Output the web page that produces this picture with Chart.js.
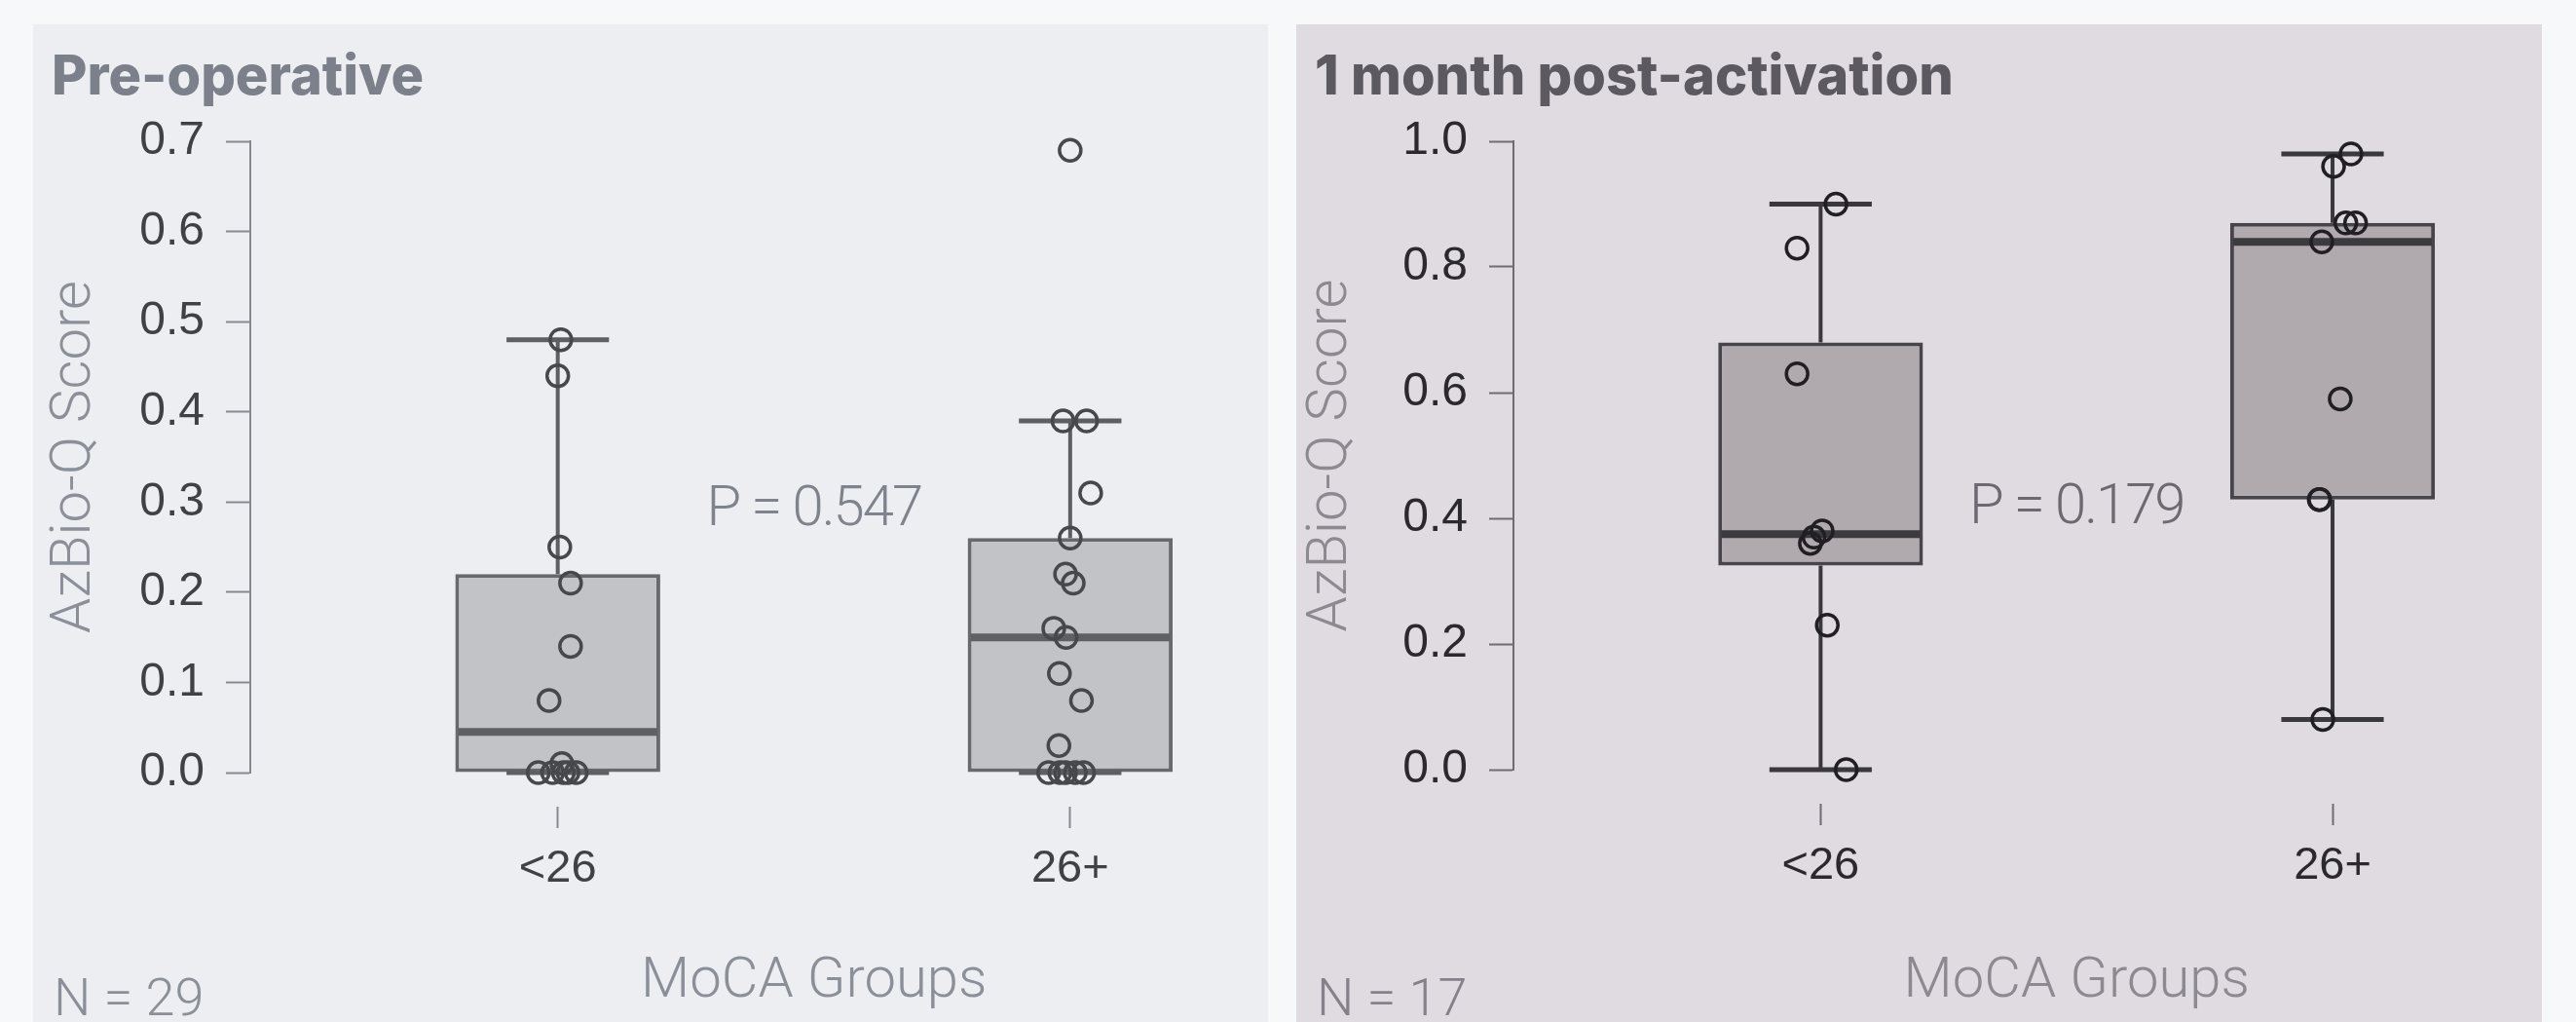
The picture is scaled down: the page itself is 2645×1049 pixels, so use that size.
<!DOCTYPE html>
<html lang="en">
  <head>
    <meta charset="UTF-8" />
    <title>AzBio-Q by MoCA group</title>
    <style>
      body {
        margin: 0;
        width: 2645px;
        height: 1049px;
        background-color: #f6f8fa;
        position: relative;
        overflow: hidden;
        font-family: Roboto, "Liberation Sans", sans-serif;
      }
      .panel {
        position: absolute;
        top: 25px;
        height: 1024px;
      }
      #panelPre {
        left: 34px;
        width: 1268px;
        background-color: #eceef2;
      }
      #panelPost {
        left: 1331px;
        width: 1279px;
        background-color: #dfdbe0;
      }
      .panel canvas {
        position: absolute;
        left: 0;
        top: 0;
      }
      .panel-title {
        position: absolute;
        left: 19px;
        top: 24px;
        font-family: Inter, "Noto Sans", sans-serif;
        font-weight: 800;
        font-size: 56px;
        line-height: 1;
        letter-spacing: 0;
        white-space: nowrap;
      }
      .n-label {
        position: absolute;
        left: 21px;
        top: 972px;
        font-size: 54px;
        font-weight: 300;
        line-height: 1;
        white-space: nowrap;
      }
    </style>
  </head>
  <body>
    <div class="panel" id="panelPre">
      <canvas id="chartPre" width="1268" height="1024"></canvas>
      <div class="panel-title" style="color: #7b808a">Pre-operative</div>
      <div class="n-label" style="color: #8b9098">N = 29</div>
    </div>
    <div class="panel" id="panelPost">
      <canvas id="chartPost" width="1279" height="1024"></canvas>
      <div class="panel-title" style="color: #5d5961">1 month post-activation</div>
      <div class="n-label" style="color: #85818a">N = 17</div>
    </div>

    <script src="https://cdn.jsdelivr.net/npm/chart.js"></script>
    <script>
      // groups on the x axis
      const groups = ["<26", "26+"];

      // pre-operative scores, one array per group
      const preLow = [0.48, 0.44, 0.25, 0.21, 0.14, 0.08, 0.01, 0, 0, 0, 0, 0];
      const preLowJitter = [0.006, 0, 0.004, 0.025, 0.025, -0.017, 0.008, -0.038, -0.01, 0.011, 0.036, 0.02];
      const preHigh = [0.69, 0.39, 0.39, 0.31, 0.26, 0.22, 0.21, 0.16, 0.15, 0.11, 0.08, 0.03, 0, 0, 0, 0, 0];
      const preHighJitter = [0, -0.014, 0.032, 0.04, 0, -0.009, 0.006, -0.032, -0.008, -0.021, 0.022, -0.022, -0.042, -0.009, 0.026, -0.02, 0.01];

      // pre-operative box summaries: [<26, 26+]
      const preQ1 = [0, 0];
      const preMedian = [0.045, 0.15];
      const preQ3 = [0.22, 0.26];
      const preWhiskerLow = [0, 0];
      const preWhiskerHigh = [0.48, 0.39];
      const preTicks = [0, 0.1, 0.2, 0.3, 0.4, 0.5, 0.6, 0.7];

      // 1 month post-activation
      const postLow = [0.9, 0.83, 0.63, 0.38, 0.37, 0.36, 0.23, 0];
      const postLowJitter = [0.03, -0.046, -0.046, 0.003, -0.013, -0.02, 0.013, 0.05];
      const postHigh = [0.98, 0.96, 0.87, 0.87, 0.84, 0.59, 0.43, 0.43, 0.08];
      const postHighJitter = [0.036, 0.002, 0.026, 0.045, -0.021, 0.015, -0.026, -0.025, -0.019];

      const postQ1 = [0.325, 0.43];
      const postMedian = [0.375, 0.84];
      const postQ3 = [0.68, 0.87];
      const postWhiskerLow = [0, 0.08];
      const postWhiskerHigh = [0.9, 0.98];
      const postTicks = [0, 0.2, 0.4, 0.6, 0.8, 1.0];

      const xTitle = "MoCA Groups";

      function toPoints(values, jitter, groupIndex) {
        return values.map((v, i) => ({ x: groupIndex + 1 + jitter[i], y: v }));
      }

      // whiskers, caps and medians, drawn right after the boxes
      const boxParts = {
        id: "boxParts",
        afterDatasetDraw(chart, args, opts) {
          if (args.index !== 0) return;
          const ctx = chart.ctx;
          const y = chart.scales.y;
          const meta = chart.getDatasetMeta(0);
          ctx.save();
          meta.data.forEach((bar, i) => {
            const cx = bar.x;
            const half = bar.width / 2;
            const capHalf = half / 2;
            const yQ1 = y.getPixelForValue(opts.q1[i]);
            const yQ3 = y.getPixelForValue(opts.q3[i]);
            const yLo = y.getPixelForValue(opts.lo[i]);
            const yHi = y.getPixelForValue(opts.hi[i]);
            const yMed = y.getPixelForValue(opts.median[i]);

            ctx.strokeStyle = opts.whiskerColor;
            ctx.lineWidth = 4;
            ctx.beginPath();
            ctx.moveTo(cx, yQ3);
            ctx.lineTo(cx, yHi);
            ctx.moveTo(cx, yQ1);
            ctx.lineTo(cx, yLo);
            ctx.stroke();

            ctx.lineWidth = 5;
            ctx.beginPath();
            ctx.moveTo(cx - capHalf, yHi);
            ctx.lineTo(cx + capHalf, yHi);
            ctx.moveTo(cx - capHalf, yLo);
            ctx.lineTo(cx + capHalf, yLo);
            ctx.stroke();

            ctx.strokeStyle = opts.medianColor;
            ctx.lineWidth = 8;
            ctx.beginPath();
            ctx.moveTo(cx - half + 3, yMed);
            ctx.lineTo(cx + half - 3, yMed);
            ctx.stroke();
          });
          ctx.restore();
        },
      };

      // p-value and x axis title, centred between the two groups
      const midLabels = {
        id: "midLabels",
        afterDraw(chart, args, opts) {
          const { ctx, chartArea } = chart;
          const x = chart.scales.x.getPixelForValue(1.5);
          const yP = chartArea.top + 0.585 * (chartArea.bottom - chartArea.top);
          ctx.save();
          ctx.textAlign = "center";
          ctx.textBaseline = "middle";

          ctx.font = "300 58px Roboto";
          ctx.fillStyle = opts.labelColor;
          ctx.fillText(xTitle, x, chart.height - 41);

          ctx.fillStyle = opts.color;
          if ("letterSpacing" in ctx) ctx.letterSpacing = "-2px";
          ctx.fillText(opts.text, x, yP);
          ctx.restore();
        },
      };

      function makeChart(canvasId, cfg) {
        const low = cfg.low;
        const high = cfg.high;
        return new Chart(document.getElementById(canvasId), {
          type: "scatter",
          data: {
            datasets: [
              {
                type: "bar",
                data: groups.map((g, i) => ({ x: i + 1, y: [cfg.q1[i], cfg.q3[i]] })),
                backgroundColor: cfg.boxFill,
                borderColor: cfg.boxLine,
                borderWidth: 4,
                borderSkipped: false,
                categoryPercentage: 0.5,
                barPercentage: 0.8,
                order: 2,
              },
              {
                data: toPoints(low.values, low.jitter, 0).concat(
                  toPoints(high.values, high.jitter, 1)
                ),
                pointRadius: 11,
                pointBorderWidth: 3.5,
                pointBackgroundColor: "rgba(0,0,0,0)",
                pointBorderColor: cfg.pointColor,
                clip: false,
                order: 1,
              },
            ],
          },
          options: {
            responsive: false,
            animation: false,
            events: [],
            layout: { padding: { top: 120, right: cfg.padRight, bottom: 0, left: 0 } },
            plugins: {
              legend: { display: false },
              tooltip: { enabled: false },
              boxParts: {
                q1: cfg.q1,
                q3: cfg.q3,
                median: cfg.median,
                lo: cfg.lo,
                hi: cfg.hi,
                whiskerColor: cfg.whiskerColor,
                medianColor: cfg.medianColor,
              },
              midLabels: { text: cfg.pText, color: cfg.pColor, labelColor: cfg.labelColor },
            },
            scales: {
              x: {
                type: "linear",
                min: 0.4,
                max: 2.35,
                offset: false,
                afterBuildTicks: (scale) => {
                  scale.ticks = groups.map((g, i) => ({ value: i + 1 }));
                },
                afterFit: (scale) => {
                  scale.height = cfg.xHeight;
                },
                ticks: {
                  callback: (v) => groups[v - 1],
                  color: cfg.tickColor,
                  font: { family: "'Liberation Sans', Arial", size: 47 },
                  padding: 13,
                  maxRotation: 0,
                },
                grid: {
                  offset: false,
                  drawOnChartArea: false,
                  drawTicks: true,
                  tickLength: 58,
                  tickColor: cfg.axisColor,
                  tickWidth: 2,
                  tickBorderDash: [0, 35, 22, 300],
                },
                border: { display: false },
                title: { display: false },
              },
              y: {
                min: 0,
                max: cfg.yTicks[cfg.yTicks.length - 1],
                afterBuildTicks: (scale) => {
                  scale.ticks = cfg.yTicks.map((v) => ({ value: v }));
                },
                afterFit: (scale) => {
                  scale.width = 223;
                },
                ticks: {
                  callback: (v) => v.toFixed(1),
                  color: cfg.tickColor,
                  font: { family: "'Liberation Sans', Arial", size: 48 },
                  padding: 22,
                },
                grid: {
                  drawOnChartArea: false,
                  drawTicks: true,
                  tickLength: 25,
                  tickColor: cfg.axisColor,
                  tickWidth: 2,
                },
                border: { display: true, color: cfg.axisColor, width: 2 },
                title: {
                  display: true,
                  text: "AzBio-Q Score",
                  color: cfg.labelColor,
                  font: { family: "Roboto", size: 58, weight: "300" },
                  padding: { top: cfg.yTitlePad, bottom: 0 },
                },
              },
            },
          },
          plugins: [boxParts, midLabels],
        });
      }

      makeChart("chartPre", {
        low: { values: preLow, jitter: preLowJitter },
        high: { values: preHigh, jitter: preHighJitter },
        q1: preQ1,
        q3: preQ3,
        median: preMedian,
        lo: preWhiskerLow,
        hi: preWhiskerHigh,
        yTicks: preTicks,
        pText: "P = 0.547",
        padRight: 19,
        xHeight: 256,
        yTitlePad: 9,
        boxFill: "#c1c3c7",
        boxLine: "#67696d",
        whiskerColor: "#5d5f63",
        medianColor: "#5e6064",
        pointColor: "#46484c",
        tickColor: "#3f4145",
        axisColor: "#868a90",
        labelColor: "#8b9098",
        pColor: "#7f848c",
      });

      makeChart("chartPost", {
        low: { values: postLow, jitter: postLowJitter },
        high: { values: postHigh, jitter: postHighJitter },
        q1: postQ1,
        q3: postQ3,
        median: postMedian,
        lo: postWhiskerLow,
        hi: postWhiskerHigh,
        yTicks: postTicks,
        pText: "P = 0.179",
        padRight: 31,
        xHeight: 259,
        yTitlePad: 2,
        boxFill: "#b0aaaf",
        boxLine: "#48444b",
        whiskerColor: "#3b383d",
        medianColor: "#3d3a3f",
        pointColor: "#221f24",
        tickColor: "#2b292d",
        axisColor: "#6f6b72",
        labelColor: "#8d8990",
        pColor: "#6d6971",
      });
    </script>
  </body>
</html>
